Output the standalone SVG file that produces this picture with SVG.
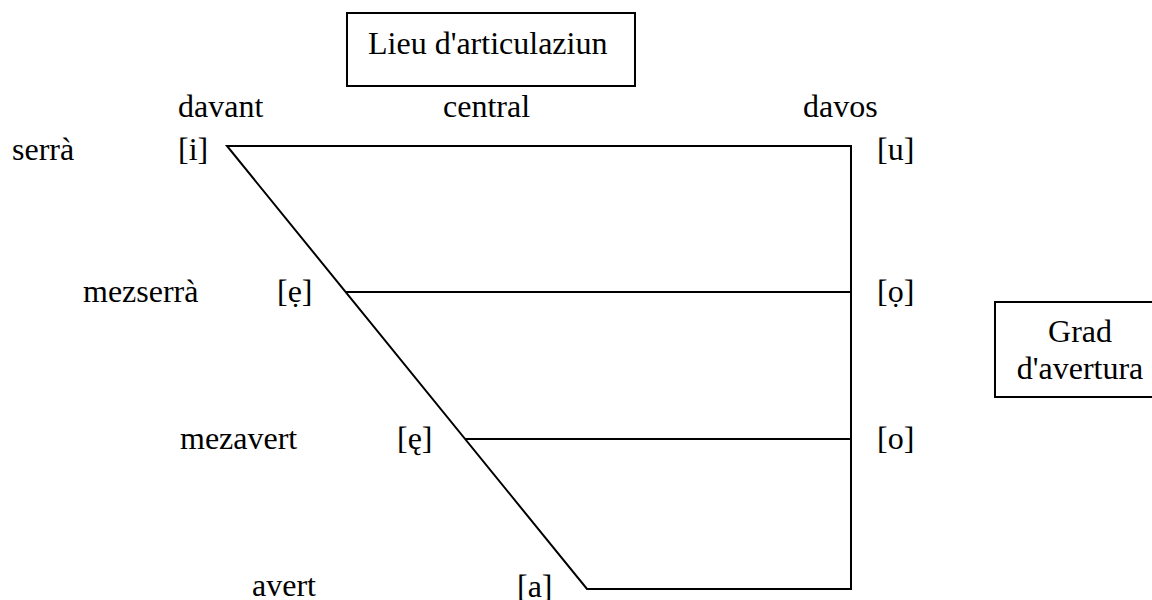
<svg xmlns="http://www.w3.org/2000/svg" width="1152" height="600" viewBox="0 0 1152 600">
<style>
text{font-family:"Liberation Serif","Times New Roman",serif;font-size:32px;fill:#000}
.ln{stroke:#000;stroke-width:2;fill:none}
.box{stroke:#000;stroke-width:2;fill:#fff}
</style>
<rect width="1152" height="600" fill="#fff"/>
<g id="connectors">
<path class="ln" d="M227,146 L851,146 L851,589 L587,589 Z" stroke-linejoin="miter"/>
<line class="ln" x1="346" y1="292" x2="851" y2="292"/>
<line class="ln" x1="465" y1="439" x2="851" y2="439"/>
</g>
<g id="lieu">
<rect class="box" x="347" y="13" width="288" height="73"/>
<text x="368" y="54">Lieu d'articulaziun</text>
</g>
<g id="grad">
<rect class="box" x="995" y="302" width="170" height="95"/>
<text x="1080" y="342" text-anchor="middle">Grad</text>
<text x="1080" y="379" text-anchor="middle">d'avertura</text>
</g>
<g id="columns">
<text x="178" y="117">davant</text>
<text x="443" y="117">central</text>
<text x="803" y="117">davos</text>
</g>
<g id="rows">
<text x="12" y="160">serrà</text>
<text x="83" y="302">mezserrà</text>
<text x="180" y="449">mezavert</text>
<text x="252" y="596">avert</text>
</g>
<g id="vowels">
<text x="178" y="160">[i]</text>
<text x="877" y="160">[u]</text>
<text x="277" y="302">[ẹ]</text>
<text x="877" y="302">[ọ]</text>
<text x="397" y="449">[ę]</text>
<text x="877" y="449">[o]</text>
<text x="517" y="597">[a]</text>
</g>
</svg>
